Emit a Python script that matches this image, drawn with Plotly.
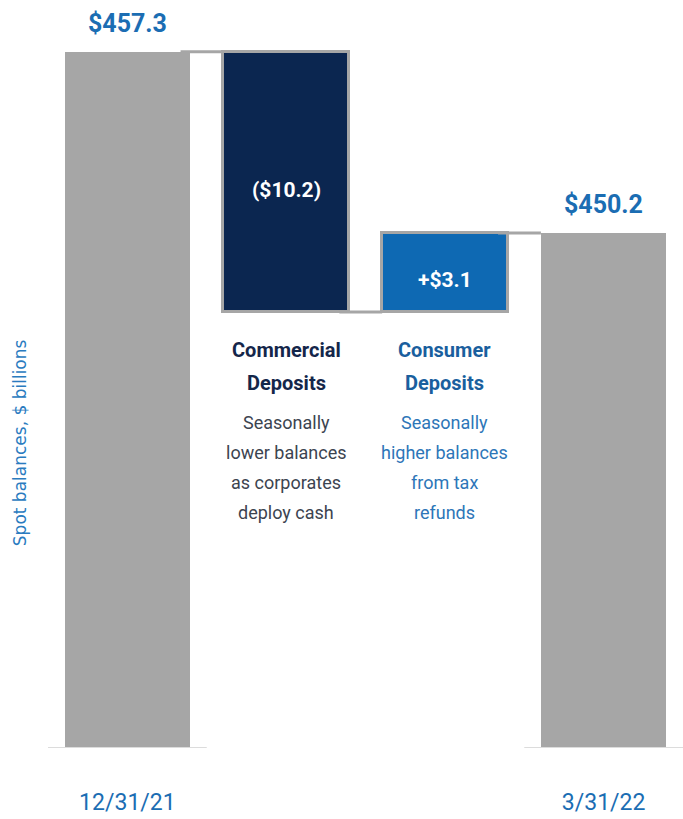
import plotly.graph_objects as go

# Deposit walk, spot balances in $ billions
categories = ["12/31/21", "Commercial Deposits", "Consumer Deposits", "3/31/22"]
start_balance = 457.3
changes = [-10.2, 3.1]
end_balance = 450.2
change_labels = ["($10.2)", "+$3.1"]
total_labels = ["$457.3", "$450.2"]
titles = [["Commercial", "Deposits"], ["Consumer", "Deposits"]]
notes = [["Seasonally", "lower balances", "as corporates", "deploy cash"],
         ["Seasonally", "higher balances", "from tax", "refunds"]]
axis_floor = 430.0

GRAY = "#a6a6a6"
NAVY = "#0b2650"
BLUE = "#0e69b3"
LABEL_BLUE = "#1b6db3"
NARROW = "Roboto, Liberation Sans Narrow, sans-serif"
BAR_W = 0.79

# running levels: start, after commercial, after consumer
levels = [start_balance]
for c in changes:
    levels.append(levels[-1] + c)

bases = [axis_floor]
heights = [start_balance - axis_floor]
for i, c in enumerate(changes):
    bases.append(min(levels[i], levels[i + 1]))
    heights.append(abs(c))
bases.append(axis_floor)
heights.append(end_balance - axis_floor)

fills = [GRAY, NAVY, BLUE, GRAY]
outline_w = [0, 3, 3, 0]

fig = go.Figure(go.Bar(
    x=categories, y=heights, base=bases, width=BAR_W,
    marker=dict(color=fills, line=dict(color=GRAY, width=outline_w)),
    hoverinfo="skip",
))

shapes = []
# connectors between consecutive bars
for i in range(3):
    lvl = levels[i]
    shapes.append(dict(type="line", xref="x", yref="y",
                       x0=i + BAR_W / 2 - 0.06, x1=i + 1 - BAR_W / 2,
                       y0=lvl, y1=lvl, line=dict(color=GRAY, width=3)))
# baselines under the two balance bars
for i in (0, 3):
    shapes.append(dict(type="line", xref="x", yref="y",
                       x0=i - 0.5, x1=i + 0.5, y0=axis_floor, y1=axis_floor,
                       line=dict(color="#dcdcdc", width=2)))

ann = []
# totals above the end bars
for xi, val, txt in [(0, start_balance, total_labels[0]), (3, end_balance, total_labels[1])]:
    ann.append(dict(x=xi, y=val, xref="x", yref="y", text=f"<b>{txt}</b>",
                    showarrow=False, yanchor="bottom", yshift=12,
                    font=dict(family=NARROW, size=25, color=LABEL_BLUE)))
# change labels inside the floating bars
for i, txt in enumerate(change_labels):
    ann.append(dict(x=i + 1, y=bases[i + 1] + heights[i + 1] / 2, xref="x", yref="y",
                    text=f"<b>{txt}</b>", showarrow=False, yshift=-8,
                    font=dict(family=NARROW, size=21, color="white")))
# category titles and notes below the floating bars
title_colors = ["#14264a", "#1a5f9e"]
note_colors = ["#3c4450", "#2d76b8"]
for i in range(2):
    y_ref = min(levels[i], levels[i + 1])
    for j, line in enumerate(titles[i]):
        ann.append(dict(x=i + 1, y=y_ref, xref="x", yref="y", text=f"<b>{line}</b>",
                        showarrow=False, yanchor="middle", yshift=-(38 + 33 * j),
                        font=dict(family=NARROW, size=20, color=title_colors[i])))
    for j, line in enumerate(notes[i]):
        ann.append(dict(x=i + 1, y=y_ref, xref="x", yref="y", text=line,
                        showarrow=False, yanchor="middle", yshift=-(111 + 30 * j),
                        font=dict(family=NARROW, size=18, color=note_colors[i])))
# axis title
ann.append(dict(x=-0.044, y=0.427, xref="paper", yref="paper", xanchor="center",
                yanchor="middle", text="Spot balances, $ billions", textangle=-90,
                showarrow=False,
                font=dict(family="DejaVu Sans, sans-serif", size=17, color="#2a7bbf")))

fig.update_layout(
    width=683, height=819,
    margin=dict(l=48, r=0, t=34, b=71),
    paper_bgcolor="white", plot_bgcolor="white",
    showlegend=False, bargap=0,
    shapes=shapes, annotations=ann,
    xaxis=dict(type="category", range=[-0.5, 3.5], showgrid=False, zeroline=False,
               showline=False, ticks="", tickvals=[categories[0], categories[3]],
               ticklabelstandoff=38,
               tickfont=dict(family=NARROW, size=23, color=LABEL_BLUE)),
    yaxis=dict(range=[axis_floor, 458], visible=False, showgrid=False),
)

fig.write_html("out.html")
